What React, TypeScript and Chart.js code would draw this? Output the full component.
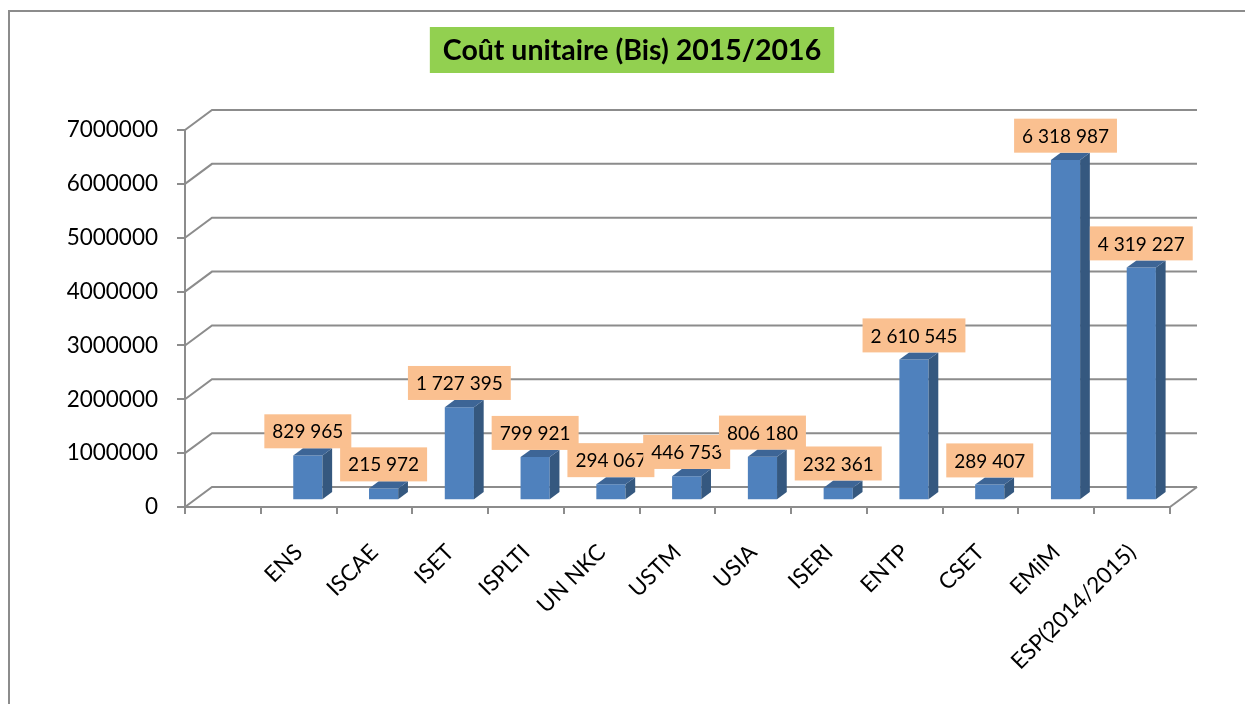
import React, { useEffect, useRef } from 'react';
import { Chart, registerables } from 'chart.js';

Chart.register(...registerables);

// ---- data ----
const categories = ['', 'ENS', 'ISCAE', 'ISET', 'ISPLTI', 'UN NKC', 'USTM', 'USIA', 'ISERI', 'ENTP', 'CSET', 'EMiM', 'ESP(2014/2015)'];
const coutUnitaire: (number | null)[] = [null, 829965, 215972, 1727395, 799921, 294067, 446753, 806180, 232361, 2610545, 289407, 6318987, 4319227];
const yMin = 0;
const yMax = 7000000;
const yStep = 1000000;
const titleText = 'Coût unitaire (Bis) 2015/2016';

// ---- style ----
const W = 1245;
const H = 704;
const DX = 27;
const DY = -20;
const BAR_FRONT = 0.34;
const BAR_BACK = 0.7;
const GRID = '#8c8c8c';
const FONT = 'Lato, "Open Sans", sans-serif';

const fmt = (v: number) => String(v).replace(/\B(?=(\d{3})+(?!\d))/g, ' ');

const excel3d = {
  id: 'excel3d',
  beforeDraw(chart: any) {
    const { ctx } = chart;
    ctx.save();
    ctx.fillStyle = '#fff';
    ctx.fillRect(0, 0, W, H);
    ctx.strokeStyle = '#8c8c8c';
    ctx.lineWidth = 2;
    ctx.beginPath();
    ctx.moveTo(9, H);
    ctx.lineTo(9, 11);
    ctx.lineTo(W, 11);
    ctx.stroke();
    ctx.font = `bold 28.5px ${FONT}`;
    const tw = ctx.measureText(titleText).width;
    const cx = 632;
    ctx.fillStyle = '#92D050';
    ctx.fillRect(cx - tw / 2 - 13, 27, tw + 26, 46);
    ctx.fillStyle = '#000';
    ctx.textAlign = 'center';
    ctx.textBaseline = 'middle';
    ctx.fillText(titleText, cx, 51);
    ctx.restore();
  },
  beforeDatasetsDraw(chart: any) {
    const { ctx, chartArea, scales } = chart;
    const { left, right, bottom } = chartArea;
    const y = scales.y;
    ctx.save();
    ctx.strokeStyle = GRID;
    ctx.lineWidth = 2;
    y.ticks.forEach((t: any) => {
      const py = y.getPixelForValue(t.value);
      ctx.beginPath();
      ctx.moveTo(left, py);
      ctx.lineTo(left + DX, py + DY);
      ctx.lineTo(right + DX, py + DY);
      ctx.stroke();
    });
    ctx.beginPath();
    ctx.moveTo(right, bottom);
    ctx.lineTo(right + DX, bottom + DY);
    ctx.stroke();
    ctx.restore();
    ctx.save();
    ctx.translate(DX * BAR_FRONT, DY * BAR_FRONT);
  },
  afterDatasetsDraw(chart: any) {
    const { ctx } = chart;
    ctx.restore();
    const meta = chart.getDatasetMeta(0);
    const fx = DX * BAR_FRONT;
    const fy = DY * BAR_FRONT;
    const ddx = DX * (BAR_BACK - BAR_FRONT);
    const ddy = DY * (BAR_BACK - BAR_FRONT);
    const boxes: any[] = [];
    meta.data.forEach((bar: any, i: number) => {
      const v = coutUnitaire[i];
      if (v == null) return;
      const { x, y, base, width } = bar.getProps(['x', 'y', 'base', 'width'], true);
      const l = x - width / 2 + fx;
      const r = x + width / 2 + fx;
      const t = y + fy;
      const b = base + fy;
      ctx.save();
      ctx.fillStyle = '#35587F';
      ctx.beginPath();
      ctx.moveTo(r, t);
      ctx.lineTo(r + ddx, t + ddy);
      ctx.lineTo(r + ddx, b + ddy);
      ctx.lineTo(r, b);
      ctx.closePath();
      ctx.fill();
      ctx.fillStyle = '#3D6596';
      ctx.beginPath();
      ctx.moveTo(l, t);
      ctx.lineTo(l + ddx, t + ddy);
      ctx.lineTo(r + ddx, t + ddy);
      ctx.lineTo(r, t);
      ctx.closePath();
      ctx.fill();
      ctx.restore();
      boxes.push({ cx: (l + r) / 2, bottom: t + ddy, text: fmt(v) });
    });
    ctx.save();
    ctx.font = `19px ${FONT}`;
    ctx.textAlign = 'center';
    ctx.textBaseline = 'middle';
    boxes.forEach((bx) => {
      const tw = ctx.measureText(bx.text).width;
      const bw = tw + 16;
      const bh = 34;
      ctx.fillStyle = '#FAC090';
      ctx.fillRect(bx.cx - bw / 2, bx.bottom - bh, bw, bh);
      ctx.fillStyle = '#000';
      ctx.fillText(bx.text, bx.cx, bx.bottom - bh / 2 + 1);
    });
    ctx.restore();
  },
};

export default function App() {
  const ref = useRef<HTMLCanvasElement>(null);
  useEffect(() => {
    if (!ref.current) return;
    const chart = new Chart(ref.current, {
      type: 'bar',
      data: {
        labels: categories,
        datasets: [
          {
            label: 'Coût unitaire',
            data: coutUnitaire,
            backgroundColor: '#4F81BD',
            borderWidth: 0,
            barPercentage: 0.385,
            categoryPercentage: 1,
          },
        ],
      },
      options: {
        animation: false,
        responsive: false,
        devicePixelRatio: 1,
        layout: { padding: { top: 130, right: 75, left: 0, bottom: 0 } },
        plugins: {
          legend: { display: false },
          tooltip: { enabled: false },
          title: { display: false },
        },
        scales: {
          x: {
            afterFit: (s: any) => {
              s.height = 197;
            },
            grid: { drawOnChartArea: false, drawTicks: true, tickLength: 7, color: GRID, lineWidth: 2 },
            border: { display: true, color: GRID, width: 2 },
            ticks: {
              autoSkip: false,
              minRotation: 45,
              maxRotation: 45,
              padding: 25,
              color: '#000',
              font: { family: FONT, size: 22.5 },
            },
          },
          y: {
            min: yMin,
            max: yMax,
            afterFit: (s: any) => {
              s.width = 185;
            },
            grid: { drawOnChartArea: false, drawTicks: true, tickLength: 8, color: GRID, lineWidth: 2 },
            border: { display: true, color: GRID, width: 2 },
            ticks: {
              stepSize: yStep,
              padding: 19,
              color: '#000',
              font: { family: FONT, size: 22.5 },
              callback: (v: any) => String(v),
            },
          },
        },
      },
      plugins: [excel3d],
    });
    return () => chart.destroy();
  }, []);
  return (
    <div style={{ position: 'fixed', left: 0, top: 0, width: W, height: H, background: '#fff' }}>
      <canvas ref={ref} width={W} height={H} style={{ display: 'block', width: W, height: H }} />
    </div>
  );
}
